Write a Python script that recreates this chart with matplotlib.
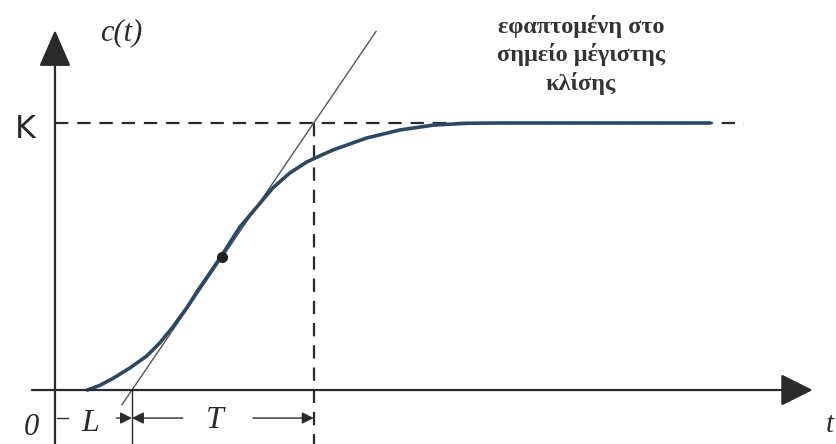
import matplotlib.pyplot as plt

# Step response of a process with an S-shaped (sigmoid) reaction curve
K = 1.0
L = 1.0
T = 2.36

# reaction curve (time, c(t))
t_curve = [0.42, 0.58, 0.75, 0.97, 1.19, 1.36, 1.53, 1.71, 1.86, 1.95, 2.17, 2.40,
           2.62, 2.83, 3.05, 3.27, 3.38, 3.61, 4.05, 4.48, 4.91, 5.35, 5.78, 7.0, 8.51]
c_curve = [0.0, 0.017, 0.043, 0.082, 0.127, 0.176, 0.236, 0.307, 0.375, 0.412, 0.506, 0.610,
           0.685, 0.757, 0.813, 0.854, 0.869, 0.899, 0.944, 0.974, 0.992, 0.999, 1.0, 1.0, 1.0]

# inflection point (maximum slope)
t_infl = 2.17
c_infl = 0.50

ink = '#2a2a2a'
curve_color = '#2d4862'

fig = plt.figure(figsize=(8.37, 4.44), dpi=100)
ax = fig.add_axes([0, 0, 1, 1])
ax.set_xlim(-0.714, 10.156)
ax.set_ylim(-0.2022, 1.4607)
ax.axis('off')

# axes with arrow heads
ax.annotate('', xy=(9.84, 0.0), xytext=(-0.30, 0.0),
            arrowprops=dict(arrowstyle='-|>,head_length=1.0,head_width=0.5',
                            mutation_scale=20, lw=1.6, color=ink, shrinkA=0, shrinkB=0))
ax.annotate('', xy=(0.0, 1.348), xytext=(0.0, -0.21),
            arrowprops=dict(arrowstyle='-|>,head_length=1.15,head_width=0.5',
                            mutation_scale=20, lw=1.6, color=ink, shrinkA=0, shrinkB=0))

# final value K and the time L+T
ax.plot([0.0, 8.95], [K, K], ls=(0, (6, 4)), lw=1.6, color=ink)
ax.plot([L + T, L + T], [K, -0.21], ls=(0, (6, 4)), lw=1.6, color=ink)
ax.plot([L, L], [0.0, -0.21], lw=1.0, color=ink)

# tangent at the point of maximum slope
slope = K / T
t_tan = [0.87, 4.17]
ax.plot(t_tan, [slope * (t - L) for t in t_tan], lw=1.0, color='#555555')

ax.plot(t_curve, c_curve, lw=2.6, color=curve_color,
        solid_capstyle='round', solid_joinstyle='round')
ax.plot([t_infl], [c_infl], 'o', ms=7, color='#222222')

# dimension marks for L and T
y_dim = -0.105
dim_arrow = dict(arrowstyle='-|>,head_length=0.5,head_width=0.25',
                 mutation_scale=14, lw=1.0, color=ink, shrinkA=0, shrinkB=0)
ax.plot([0.02, 0.17], [y_dim, y_dim], lw=1.0, color=ink)
ax.annotate('', xy=(L, y_dim), xytext=(0.80, y_dim), arrowprops=dict(dim_arrow))
ax.annotate('', xy=(L, y_dim), xytext=(1.66, y_dim), arrowprops=dict(dim_arrow))
ax.annotate('', xy=(L + T, y_dim), xytext=(2.57, y_dim), arrowprops=dict(dim_arrow))

serif_it = dict(family='Liberation Serif', style='italic', color=ink)
ax.text(-0.31, -0.139, '0', fontsize=22, ha='center', va='center', **serif_it)
ax.text(0.455, -0.124, 'L', fontsize=23, ha='center', va='center', **serif_it)
ax.text(2.08, -0.116, 'T', fontsize=23, ha='center', va='center', **serif_it)
ax.text(0.86, 1.34, 'c(t)', fontsize=22, ha='center', va='center', **serif_it)
ax.text(10.01, -0.13, 't', fontsize=21, ha='left', va='center', **serif_it)
ax.text(-0.39, 0.974, 'K', fontsize=23, ha='center', va='center',
        family='DejaVu Sans', color=ink)

ax.text(6.83, 1.255, 'εφαπτομένη στο\nσημείο μέγιστης\nκλίσης', fontsize=17.5,
        ha='center', va='center', linespacing=1.3, family='Liberation Serif',
        weight='bold', color='#333333')

fig.savefig('out.png', dpi=100, facecolor='white')
